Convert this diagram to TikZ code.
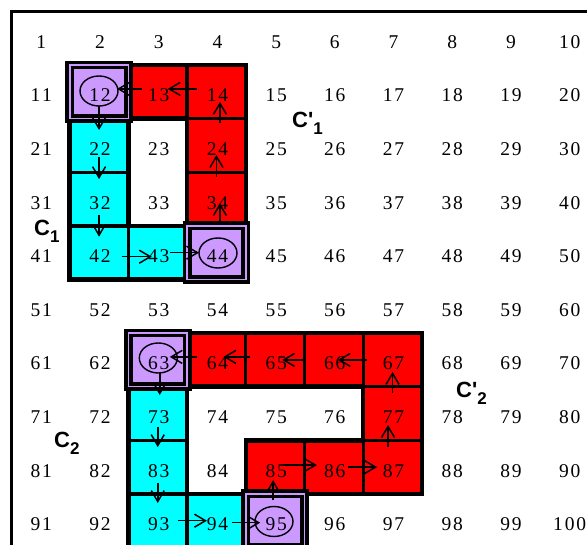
\documentclass[tikz,border=0pt]{standalone}
\usepackage{fontspec}
\newfontfamily\numfont{Liberation Serif}
\newfontfamily\labfont{Liberation Sans}
\usetikzlibrary{arrows.meta,shapes.geometric}
\definecolor{cred}{RGB}{255,0,0}
\definecolor{ccyan}{RGB}{0,255,255}
\definecolor{cpurple}{RGB}{204,153,255}
\tikzset{
  cellbase/.style={rectangle, minimum width=58.7pt, minimum height=53.6pt, inner sep=0pt, outer sep=0pt, draw=black, line width=3.3pt},
  redcell/.style={cellbase, fill=cred},
  cyancell/.style={cellbase, fill=ccyan},
  purplecell/.style={cellbase, fill=cpurple, line width=3.6pt, double=cpurple, double distance=1.6pt},
  outline/.style={draw=black, line width=4.5pt, line join=miter},
  ring/.style={ellipse, draw=black, line width=1.4pt, minimum width=38pt, minimum height=30pt, inner sep=0pt},
  numtxt/.style={anchor=base, inner sep=0pt, font=\numfont\fontsize{19.5pt}{20pt}\selectfont},
  lab/.style={anchor=base west, inner sep=0pt, font=\labfont\bfseries\fontsize{22pt}{22pt}\selectfont},
  arr/.style={-{Straight Barb[length=11pt,width=13pt]}, line width=1.5pt},
}
\newcommand\subl[1]{\raisebox{-6.5pt}{\fontsize{17pt}{17pt}\selectfont #1}}
\begin{document}
\begin{tikzpicture}[x=1pt,y=-1pt]
\useasboundingbox (0,0) rectangle (587,545);
\fill[white] (0,0) rectangle (587,545);
\clip (0,0) rectangle (587,545);
% frame
\draw[line width=3.3pt] (11.7,11.7) rectangle (620,580);
% red cells
\foreach \k/\x/\y in {13/157.75/91.9, 14/216.45/91.9, 24/216.45/145.5, 34/216.45/199.1,
  64/216.45/359.9, 65/275.15/359.9, 66/333.85/359.9, 67/392.55/359.9,
  77/392.55/413.5, 87/392.55/467.1, 86/333.85/467.1, 85/275.15/467.1}
  {\node[redcell] (cell\k) at (\x,\y) {};}
% cyan cells
\foreach \k/\x/\y in {22/99.05/145.5, 32/99.05/199.1, 42/99.05/252.7, 43/157.75/252.7,
  73/157.75/413.5, 83/157.75/467.1, 93/157.75/520.7, 94/216.45/520.7}
  {\node[cyancell] (cell\k) at (\x,\y) {};}
% outlines of the two rings
\draw[outline] (69.7,65.1) rectangle (245.8,279.5);
\draw[outline] (128.4,118.7) rectangle (187.1,225.9);
\draw[outline] (128.4,333.1) -- (421.9,333.1) -- (421.9,493.9) -- (304.5,493.9)
  -- (304.5,547.5) -- (128.4,547.5) -- cycle;
\draw[outline] (187.1,386.7) -- (363.2,386.7) -- (363.2,440.3) -- (245.8,440.3)
  -- (245.8,493.9) -- (187.1,493.9) -- cycle;
% purple cells
\foreach \k/\x/\y in {12/99.05/91.9, 44/216.45/252.7, 63/157.75/359.9, 95/275.15/520.7}
  {\node[purplecell] (cell\k) at (\x,\y) {};}
% ellipses
\node[ring] (e12) at (99,91) {};
\node[ring] (e44) at (218,253) {};
\node[ring] (e63) at (158.3,358) {};
\node[ring] (e95) at (274,521.5) {};
% numbers
\foreach \rr in {0,...,9}{
  \foreach \cc in {0,...,9}{
    \pgfmathtruncatemacro\nn{10*\rr+\cc+1}
    \pgfmathtruncatemacro\tens{floor((\nn+0.5)/10)}
    \pgfmathtruncatemacro\units{\nn-10*\tens}
    \node[numtxt] (n\nn) at ({11+(\cc+0.5)*58.7+1},{11.5+(\rr+0.5)*53.6+10})
      {\ifnum\nn<10 \nn\else\ifnum\nn=100 1\kern1.8pt 0\kern1.8pt 0\else\tens\kern1.8pt\units\fi\fi};
  }
}
% arrows, ring 1
\draw[arr, shorten <=19.5pt, shorten >=10pt] ([yshift=3pt]cell14.center) -- ([yshift=3pt]cell13.center);
\draw[arr, shorten <=16pt, shorten >=18pt] ([yshift=3pt]cell13.center) -- ([yshift=3pt]cell12.center);
\draw[arr, shorten <=14pt, shorten >=15.5pt] (cell12.center) -- (cell22.center);
\draw[arr, shorten <=11.5pt, shorten >=20pt] (cell22.center) -- (cell32.center);
\draw[arr, shorten <=16pt, shorten >=16pt] (cell32.center) -- (cell42.center);
\draw[arr, shorten <=23pt, shorten >=6pt] ([yshift=-4pt]cell42.center) -- ([yshift=-4pt]cell43.center);
\draw[arr, shorten <=12pt, shorten >=17.5pt] (cell43.center) -- (cell44.center);
\draw[arr, shorten <=29.7pt, shorten >=4pt] ([xshift=3.5pt]cell44.center) -- ([xshift=3.5pt]cell34.center);
\draw[arr, shorten <=22pt, shorten >=9.5pt] (cell34.center) -- (cell24.center);
\draw[arr, shorten <=22.5pt, shorten >=10pt] ([xshift=3.5pt]cell24.center) -- ([xshift=3.5pt]cell14.center);
% arrows, ring 2
\draw[arr, shorten <=25.5pt, shorten >=4pt] (cell67.center) -- (cell66.center);
\draw[arr, shorten <=29pt, shorten >=7pt] (cell66.center) -- (cell65.center);
\draw[arr, shorten <=25pt, shorten >=7pt] ([yshift=3pt]cell65.center) -- ([yshift=3pt]cell64.center);
\draw[arr, shorten <=19.5pt, shorten >=12pt] ([yshift=3pt]cell64.center) -- ([yshift=3pt]cell63.center);
\draw[arr, shorten <=13pt, shorten >=18.5pt] ([xshift=2pt]cell63.center) -- ([xshift=2pt]cell73.center);
\draw[arr, shorten <=13.5pt, shorten >=20pt] (cell73.center) -- (cell83.center);
\draw[arr, shorten <=16pt, shorten >=17.7pt] (cell83.center) -- (cell93.center);
\draw[arr, shorten <=20pt, shorten >=9.5pt] (cell93.center) -- (cell94.center);
\draw[arr, shorten <=15.5pt, shorten >=15pt] ([yshift=-2pt]cell94.center) -- ([yshift=-2pt]cell95.center);
\draw[arr, shorten <=20.7pt, shorten >=13pt] ([xshift=-2pt]cell95.center) -- ([xshift=-2pt]cell85.center);
\draw[arr, shorten <=8pt, shorten >=17pt] ([yshift=2pt]cell85.center) -- ([yshift=2pt]cell86.center);
\draw[arr, shorten <=14pt, shorten >=15.5pt] (cell86.center) -- (cell87.center);
\draw[arr, shorten <=20pt, shorten >=11.5pt] ([xshift=-4.5pt]cell87.center) -- ([xshift=-4.5pt]cell77.center);
\draw[arr, shorten <=20.5pt, shorten >=12pt] (cell77.center) -- (cell67.center);
% labels
\node[lab] (lab1) at (34,236) {C\subl{1}};
\node[lab] (lab1p) at (292,128) {C'\subl{1}};
\node[lab] (lab2) at (54,448) {C\subl{2}};
\node[lab] (lab2p) at (456,398) {C'\subl{2}};
\end{tikzpicture}
\end{document}
